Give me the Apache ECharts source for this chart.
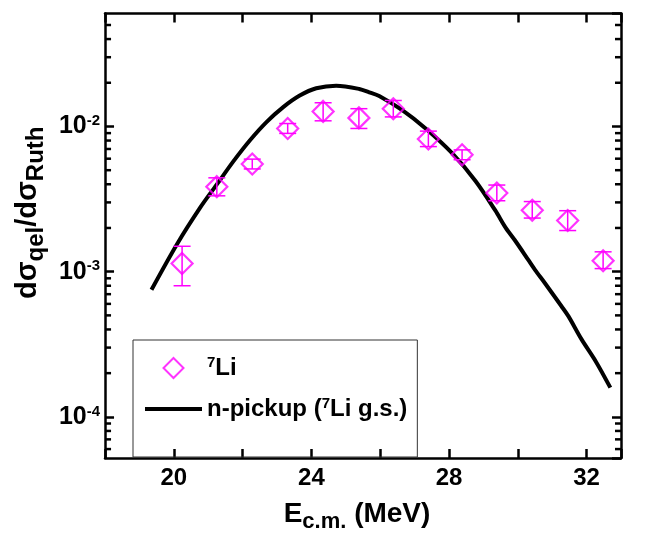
<!DOCTYPE html>
<html>
<head>
<meta charset="utf-8">
<script src="https://cdn.jsdelivr.net/npm/echarts@6/dist/echarts.min.js"></script>
<style>
html,body{margin:0;padding:0;background:#fff;}
#main{width:656px;height:538px;}
</style>
</head>
<body>
<div id="main"></div>
<script>
// 实验点 (7Li)
var energy = [20.24, 21.25, 22.28, 23.31, 24.34, 25.38, 26.38, 27.40, 28.38, 29.39, 30.42, 31.45, 32.48];
var sigma  = [1.14e-3, 3.85e-3, 5.51e-3, 9.69e-3, 1.27e-2, 1.146e-2, 1.326e-2, 8.20e-3, 6.38e-3, 3.48e-3, 2.65e-3, 2.25e-3, 1.19e-3];
var errLo  = [8.0e-4, 3.33e-3, 5.10e-3, 8.96e-3, 1.094e-2, 9.69e-3, 1.164e-2, 7.27e-3, 5.90e-3, 3.08e-3, 2.34e-3, 1.92e-3, 1.05e-3];
var errHi  = [1.496e-3, 4.43e-3, 5.96e-3, 1.048e-2, 1.457e-2, 1.326e-2, 1.51e-2, 9.29e-3, 6.90e-3, 3.95e-3, 3.04e-3, 2.63e-3, 1.37e-3];

// n-pickup 计算曲线
var curveE = [19.35, 20.10, 20.77, 21.25, 21.73, 22.22, 22.70, 23.18, 23.66, 24.14, 24.72, 25.39, 25.68, 25.97, 26.65, 27.32, 28.09, 28.77, 29.35, 29.64, 29.92, 30.31, 30.50, 30.79, 31.27, 31.47, 31.85, 32.28, 32.69];
var curveS = [7.51e-4, 1.558e-3, 2.77e-3, 3.99e-3, 5.75e-3, 8.07e-3, 1.076e-2, 1.36e-2, 1.633e-2, 1.833e-2, 1.91e-2, 1.814e-2, 1.72e-2, 1.62e-2, 1.29e-2, 9.69e-3, 6.55e-3, 4.21e-3, 2.63e-3, 2.02e-3, 1.64e-3, 1.20e-3, 1.03e-3, 8.32e-4, 5.78e-4, 4.94e-4, 3.43e-4, 2.38e-4, 1.59e-4];

var xTicks = [20, 24, 28, 32];
var yDecades = [1e-4, 1e-3, 1e-2];

var xMin = 18, xMax = 33;
var yMin = 5.2e-5, yMax = 0.06;
var font = 'Liberation Sans, Arial, sans-serif';

var pointData = [];
for (var i = 0; i < energy.length; i++) {
	pointData.push([energy[i], sigma[i]]);
}
var errData = [];
for (var i = 0; i < energy.length; i++) {
	errData.push([energy[i], errLo[i], errHi[i]]);
}
var lineData = [];
for (var i = 0; i < curveE.length; i++) {
	lineData.push([curveE[i], curveS[i]]);
}

function yLabel(v) {
	for (var k = 0; k < yDecades.length; k++) {
		if (Math.abs(v / yDecades[k] - 1) < 1e-6) {
			var p = Math.round(Math.log10(v));
			return '{b|10}{s|' + p + '}';
		}
	}
	return '';
}

var axisLine = { show: true, lineStyle: { color: '#000', width: 2.5 } };

var myChart = echarts.init(document.getElementById('main'));
var option = {
	animation: false,
	backgroundColor: '#fff',
	grid: { left: 103, right: 35, top: 13.5, bottom: 74.5 },
	legend: {
		orient: 'vertical',
		left: 133,
		top: 340,
		padding: [15, 10, 36, 12],
		itemGap: 16,
		itemWidth: 57,
		itemHeight: 20,
		symbolKeepAspect: true,
		borderColor: '#333',
		borderWidth: 1,
		data: [
			{ name: 'Li7', icon: 'path://M10,0L20,10L10,20L0,10Z', itemStyle: { color: 'rgba(0,0,0,0)', borderColor: '#ff00ff', borderWidth: 2 } },
			{ name: 'npick', icon: 'path://M0,0H57V4H0Z', itemStyle: { color: '#000', borderWidth: 0 } }
		],
		formatter: function (name) {
			if (name == 'Li7') return '{s|7}{b|Li}';
			return '{b|n-pickup (}{s|7}{b|Li g.s.)}';
		},
		textStyle: {
			rich: {
				b: { fontFamily: font, fontWeight: 'bold', fontSize: 24, lineHeight: 26, color: '#000' },
				s: { fontFamily: font, fontWeight: 'bold', fontSize: 15, lineHeight: 15, verticalAlign: 'top', color: '#000' }
			}
		}
	},
	xAxis: [{
		type: 'value',
		min: xMin,
		max: xMax,
		interval: 2,
		position: 'bottom',
		axisLine: axisLine,
		axisTick: { show: true, inside: true, length: 9, lineStyle: { width: 2.5, color: '#000' } },
		splitLine: { show: false },
		axisLabel: {
			margin: 8,
			fontFamily: font,
			fontWeight: 'bold',
			fontSize: 24,
			color: '#000',
			formatter: function (v) {
				return xTicks.indexOf(v) >= 0 ? String(v) : '';
			}
		},
		name: '{m|E}{sub|c.m.}{m| (MeV)}',
		nameLocation: 'middle',
		nameGap: 38,
		nameTextStyle: {
			padding: [0, 12, 0, 0],
			rich: {
				m: { fontFamily: font, fontWeight: 'bold', fontSize: 28, lineHeight: 32, color: '#000' },
				sub: { fontFamily: font, fontWeight: 'bold', fontSize: 22, lineHeight: 22, padding: [16, 0, 0, 0], color: '#000' }
			}
		}
	}, {
		type: 'value',
		min: xMin,
		max: xMax,
		interval: 2,
		position: 'top',
		axisLine: axisLine,
		axisTick: { show: true, inside: true, length: 9, lineStyle: { width: 2.5, color: '#000' } },
		axisLabel: { show: false },
		splitLine: { show: false }
	}],
	yAxis: [{
		type: 'log',
		logBase: 10,
		min: yMin,
		max: yMax,
		position: 'left',
		axisLine: axisLine,
		axisTick: { show: true, inside: true, length: 9, lineStyle: { width: 2.5, color: '#000' } },
		splitLine: { show: false },
		minorTick: { show: false },
		axisLabel: {
			margin: 5,
			formatter: yLabel,
			showMinLabel: false,
			showMaxLabel: false,
			rich: {
				b: { fontFamily: font, fontWeight: 'bold', fontSize: 25, lineHeight: 26, color: '#000' },
				s: { fontFamily: font, fontWeight: 'bold', fontSize: 15, lineHeight: 15, verticalAlign: 'top', color: '#000' }
			}
		},
		name: '{m|dσ}{sub|qel}{m|/dσ}{sub|Ruth}',
		nameLocation: 'middle',
		nameGap: 58,
		nameRotate: 90,
		nameTextStyle: {
			padding: [0, 0, 0, 46],
			rich: {
				m: { fontFamily: font, fontWeight: 'bold', fontSize: 29, lineHeight: 32, color: '#000' },
				sub: { fontFamily: font, fontWeight: 'bold', fontSize: 24, lineHeight: 24, padding: [16, 0, 0, 0], color: '#000' }
			}
		}
	}, {
		type: 'log',
		logBase: 10,
		min: yMin,
		max: yMax,
		position: 'right',
		axisLine: axisLine,
		axisTick: { show: true, inside: true, length: 9, lineStyle: { width: 2.5, color: '#000' } },
		axisLabel: { show: false },
		splitLine: { show: false }
	}],
	series: [{
		name: 'npick',
		type: 'line',
		data: lineData,
		smooth: 0.3,
		showSymbol: false,
		symbol: 'none',
		z: 2,
		lineStyle: { color: '#000', width: 4 },
		itemStyle: { color: '#000' }
	}, {
		name: 'err',
		type: 'custom',
		z: 3,
		data: errData,
		encode: { x: 0, y: [1, 2] },
		renderItem: function (params, api) {
			var x = api.value(0);
			var lo = api.coord([x, api.value(1)]);
			var hi = api.coord([x, api.value(2)]);
			var w = 8.5;
			var st = { stroke: '#ff00ff', lineWidth: 1.5 };
			return {
				type: 'group',
				children: [
					{ type: 'line', shape: { x1: lo[0], y1: lo[1], x2: hi[0], y2: hi[1] }, style: st },
					{ type: 'line', shape: { x1: lo[0] - w, y1: lo[1], x2: lo[0] + w, y2: lo[1] }, style: st },
					{ type: 'line', shape: { x1: hi[0] - w, y1: hi[1], x2: hi[0] + w, y2: hi[1] }, style: st }
				]
			};
		}
	}, {
		name: 'Li7',
		type: 'scatter',
		data: pointData,
		symbol: 'diamond',
		symbolSize: 21,
		z: 4,
		itemStyle: { color: 'rgba(0,0,0,0)', borderColor: '#ff00ff', borderWidth: 2.2 }
	}]
};
myChart.setOption(option);

// 对数轴的小刻度 2..9
function minorTicks() {
	var left = myChart.convertToPixel({ xAxisIndex: 0 }, xMin);
	var right = myChart.convertToPixel({ xAxisIndex: 0 }, xMax);
	var els = [];
	for (var n = -5; n <= -2; n++) {
		for (var k = 2; k <= 9; k++) {
			var v = k * Math.pow(10, n);
			if (v <= yMin || v >= yMax) continue;
			var y = myChart.convertToPixel({ yAxisIndex: 0 }, v);
			els.push({ type: 'line', shape: { x1: left, y1: y, x2: left + 6, y2: y }, style: { stroke: '#000', lineWidth: 2.5 }, z: 10 });
			els.push({ type: 'line', shape: { x1: right - 6, y1: y, x2: right, y2: y }, style: { stroke: '#000', lineWidth: 2.5 }, z: 10 });
		}
	}
	myChart.setOption({ graphic: els });
}
minorTicks();
</script>
</body>
</html>
